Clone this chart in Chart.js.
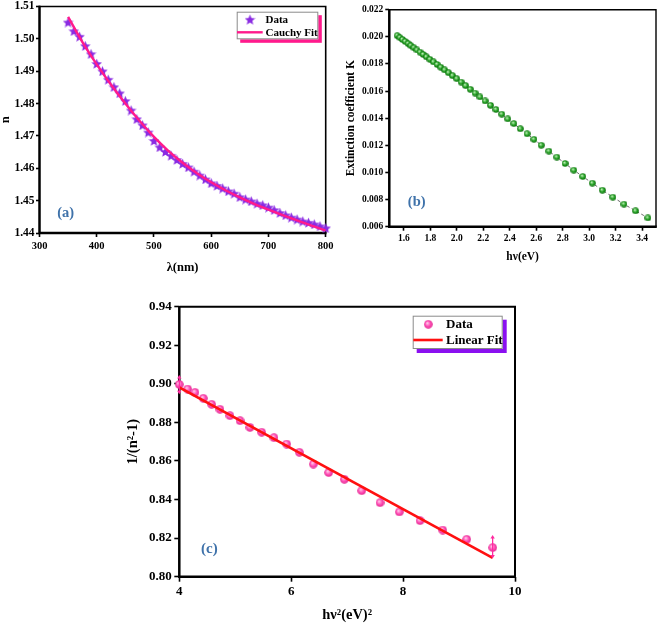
<!DOCTYPE html>
<html><head><meta charset="utf-8">
<script src="https://cdn.jsdelivr.net/npm/chart.js@4.4.1/dist/chart.umd.min.js"></script>
<style>
html,body{margin:0;padding:0;background:#fff;}
body{width:661px;height:624px;position:relative;overflow:hidden;}
canvas{position:absolute;}
</style></head><body>
<canvas id="ca" width="340" height="280" style="left:0;top:0;width:340px;height:280px"></canvas>
<canvas id="cb" width="331" height="280" style="left:330px;top:0;width:331px;height:280px"></canvas>
<canvas id="cc" width="420" height="334" style="left:120px;top:290px;width:420px;height:334px"></canvas>
<script>
// ---------- (a) refractive index vs wavelength ----------
const wavelengthNm = [350,360,370,380,390,400,410,420,430,440,450,460,470,480,490,500,510,520,530,540,550,560,570,580,590,600,610,620,630,640,650,660,670,680,690,700,710,720,730,740,750,760,770,780,790,800];
const nData = [1.5052,1.5025,1.5008,1.4979,1.4954,1.4924,1.4901,1.4875,1.4852,1.4833,1.4809,1.4780,1.4753,1.4734,1.4712,1.4686,1.4666,1.4652,1.4640,1.4627,1.4615,1.4604,1.4591,1.4579,1.4567,1.4555,1.4547,1.4539,1.4530,1.4523,1.4512,1.4505,1.4499,1.4492,1.4487,1.4480,1.4472,1.4463,1.4456,1.4449,1.4443,1.4437,1.4433,1.4428,1.4422,1.4416];
const cauchyWl = [350,375,400,425,450,475,500,525,550,575,600,625,650,675,700,725,750,775,800];
const cauchyN  = [1.5068,1.4990,1.4921,1.4858,1.4800,1.4746,1.4697,1.4654,1.4617,1.4585,1.4557,1.4532,1.4510,1.4490,1.4472,1.4455,1.4439,1.4423,1.4408];
const xTicksA = [300,400,500,600,700,800];
const yTicksA = [1.44,1.45,1.46,1.47,1.48,1.49,1.50,1.51];

// ---------- (b) extinction coefficient vs photon energy ----------
const photonEnergyEv = [1.550,1.570,1.590,1.610,1.632,1.653,1.676,1.699,1.722,1.746,1.771,1.797,1.824,1.851,1.879,1.908,1.938,1.968,2.000,2.033,2.067,2.102,2.138,2.175,2.214,2.255,2.296,2.340,2.385,2.431,2.480,2.531,2.583,2.638,2.696,2.756,2.818,2.884,2.952,3.024,3.100,3.179,3.263,3.351,3.444];
const extinctionK = [0.02008,0.01994,0.01980,0.01966,0.01950,0.01935,0.01919,0.01903,0.01887,0.01870,0.01852,0.01834,0.01815,0.01796,0.01776,0.01756,0.01735,0.01713,0.01691,0.01666,0.01640,0.01613,0.01585,0.01557,0.01527,0.01495,0.01464,0.01430,0.01395,0.01360,0.01322,0.01285,0.01244,0.01201,0.01157,0.01113,0.01066,0.01017,0.00970,0.00921,0.00869,0.00818,0.00766,0.00717,0.00665];
const xTicksB = [1.6,1.8,2.0,2.2,2.4,2.6,2.8,3.0,3.2,3.4];
const yTicksB = [0.006,0.008,0.010,0.012,0.014,0.016,0.018,0.020,0.022];

// ---------- (c) 1/(n^2-1) vs (hv)^2 ----------
const hv2 = [4.000,4.149,4.280,4.429,4.578,4.727,4.906,5.085,5.263,5.472,5.692,5.919,6.145,6.396,6.670,6.950,7.260,7.588,7.933,8.303,8.708,9.137,9.602];
const invN2m1 = [0.8997,0.8973,0.8956,0.8925,0.8894,0.8868,0.8835,0.8809,0.8774,0.8749,0.8721,0.8688,0.8645,0.8584,0.8540,0.8505,0.8446,0.8384,0.8336,0.8291,0.8242,0.8194,0.8151];
const linFitX = [4.0,9.6];
const linFitY = [0.8982,0.8098];
const errX = [4.0,9.6];
const errLow = [0.8946,0.8095];
const errHigh = [0.9046,0.8216];
const xTicksC = [4,6,8,10];
const yTicksC = [0.80,0.82,0.84,0.86,0.88,0.90,0.92,0.94];

// ---------- helpers ----------
const SERIF = "'Liberation Serif','Times New Roman',serif";
const pts = (xs, ys) => xs.map((x,i)=>({x, y: ys[i]}));

function starImg(size, color){
  const c=document.createElement('canvas'); c.width=c.height=size;
  const g=c.getContext('2d'); const R=size/2, r=R*0.46;
  g.beginPath();
  for(let i=0;i<10;i++){const a=-Math.PI/2+i*Math.PI/5; const rr=(i%2)?r:R; g.lineTo(R+rr*Math.cos(a), R+0.8+rr*Math.sin(a));}
  g.closePath(); g.fillStyle=color; g.fill(); return c;
}
function ballImg(d, light, mid, dark){
  const c=document.createElement('canvas'); c.width=c.height=d;
  const g=c.getContext('2d'); const r=d/2;
  const gr=g.createRadialGradient(r*0.75,r*0.7,r*0.05,r,r,r);
  gr.addColorStop(0,light); gr.addColorStop(0.55,mid); gr.addColorStop(1,dark);
  g.fillStyle=gr; g.beginPath(); g.arc(r,r,r-0.2,0,Math.PI*2); g.fill(); return c;
}

function scaleCfg(c){
  return {
    type:'linear', min:c.min, max:c.max,
    afterBuildTicks: s => { s.ticks = c.ticks.map(v=>({value:v})); },
    afterFit: s => {
      if (c.vertical) s.width = c.size; else s.height = c.size;
      s.paddingLeft = s.paddingRight = s.paddingTop = s.paddingBottom = 0;
    },
    border:{display:false},
    grid:{display:true, drawOnChartArea:false, drawTicks:true, tickLength:c.tickLen, tickColor:'#000', tickWidth:1.6, color:'#000'},
    ticks:{color:'#000', font:{family:SERIF, weight:'bold', size:c.fs}, padding:c.pad, maxRotation:0, autoSkip:false, callback:v=>c.fmt(v)},
    title:{display:true, text:c.title, color:'#000', font:{family:SERIF, weight:'bold', size:c.tfs}, padding:c.tpad}
  };
}

const decorPlugin = {
  id:'decor',
  beforeDatasetsDraw(chart){
    const o = chart.options.plugins.decor; if(!o) return;
    const {ctx, chartArea:a} = chart;
    ctx.save(); ctx.strokeStyle='#000';
    ctx.lineWidth=o.frameThin||1.6; ctx.beginPath();
    ctx.moveTo(a.left,a.top); ctx.lineTo(a.right,a.top); ctx.lineTo(a.right,a.bottom); ctx.stroke();
    ctx.lineWidth=2.5; ctx.beginPath();
    ctx.moveTo(a.left,a.top-0.8); ctx.lineTo(a.left,a.bottom); ctx.lineTo(a.right+0.8,a.bottom); ctx.stroke();
    ctx.restore();
  },
  afterDatasetsDraw(chart){
    const o = chart.options.plugins.decor; if(!o || !o.err) return;
    const {ctx} = chart; const xs=chart.scales.x, ys=chart.scales.y;
    ctx.save(); ctx.strokeStyle=o.err.color; ctx.fillStyle=o.err.color; ctx.lineWidth=1.3;
    o.err.x.forEach((xv,i)=>{
      const px=xs.getPixelForValue(xv), y1=ys.getPixelForValue(o.err.hi[i]), y2=ys.getPixelForValue(o.err.lo[i]);
      ctx.beginPath(); ctx.moveTo(px,y1+2); ctx.lineTo(px,y2-2); ctx.stroke();
      ctx.beginPath(); ctx.moveTo(px,y1); ctx.lineTo(px-2.2,y1+3.5); ctx.lineTo(px+2.2,y1+3.5); ctx.closePath(); ctx.fill();
      ctx.beginPath(); ctx.moveTo(px,y2); ctx.lineTo(px-2.2,y2-3.5); ctx.lineTo(px+2.2,y2-3.5); ctx.closePath(); ctx.fill();
    });
    ctx.restore();
  },
  afterDraw(chart){
    const o = chart.options.plugins.decor; if(!o) return;
    const {ctx} = chart;
    ctx.save();
    if (o.panel){
      ctx.font = `bold ${o.panel.size}px ${SERIF}`; ctx.fillStyle=o.panel.color;
      ctx.textAlign='center'; ctx.textBaseline='middle';
      ctx.fillText(o.panel.text, o.panel.x, o.panel.y);
    }
    if (o.legend){
      const L=o.legend, b=L.box;
      ctx.fillStyle=L.shadow; ctx.fillRect(b[0]+L.off, b[1]+L.off, b[2]-b[0], b[3]-b[1]);
      ctx.fillStyle='#fff'; ctx.fillRect(b[0], b[1], b[2]-b[0], b[3]-b[1]);
      ctx.strokeStyle='#8a8a8a'; ctx.lineWidth=1; ctx.strokeRect(b[0]+0.5, b[1]+0.5, b[2]-b[0]-1, b[3]-b[1]-1);
      ctx.font=`bold ${L.size}px ${SERIF}`; ctx.fillStyle='#000'; ctx.textAlign='left'; ctx.textBaseline='middle';
      L.rows.forEach(r=>{
        const ds = chart.data.datasets[r.ds];
        if (r.kind==='point'){
          const im = ds.pointStyle; ctx.drawImage(im, r.x-im.width/2, r.y-im.height/2);
        } else {
          ctx.strokeStyle=ds.borderColor; ctx.lineWidth=ds.borderWidth; ctx.beginPath(); ctx.moveTo(r.x0,r.y); ctx.lineTo(r.x1,r.y); ctx.stroke();
        }
        ctx.fillStyle='#000'; ctx.fillText(ds.label, r.tx, r.y+0.5);
      });
    }
    ctx.restore();
  }
};
Chart.register(decorPlugin);

const common = {responsive:false, animation:false, events:[], plugins:{legend:{display:false}, tooltip:{enabled:false}}};

// ---------- chart (a) ----------
new Chart(document.getElementById('ca'), {
  type:'scatter',
  data:{datasets:[
    {label:'Data', data:pts(wavelengthNm,nData), pointStyle:starImg(11,'#8a2be2'), pointRadius:5.5, showLine:false, clip:false, order:2},
    {label:'Cauchy Fit', data:pts(cauchyWl,cauchyN), showLine:true, borderColor:'#ff1a8c', borderWidth:2.4, pointRadius:0, cubicInterpolationMode:'monotone', order:1}
  ]},
  options:{...common,
    layout:{padding:{left:0,top:5,right:14.3,bottom:0}},
    scales:{
      x: scaleCfg({min:300,max:800,ticks:xTicksA,size:47,tickLen:4,fs:10.5,pad:3,fmt:v=>String(v),title:'λ(nm)',tfs:12.5,tpad:{top:0,bottom:5}}),
      y: scaleCfg({min:1.44,max:1.51,ticks:yTicksA,size:39.5,vertical:true,tickLen:3.5,fs:11.5,pad:1.5,fmt:v=>v.toFixed(2),title:'n',tfs:12.5,tpad:{top:-2,bottom:0}})
    },
    plugins:{...common.plugins,
      decor:{panel:{text:'(a)',x:65.7,y:213.5,size:14.5,color:'#3f72aa'},
        legend:{box:[236.7,11.7,318.3,39.3],shadow:'#ff1a8c',off:3.5,size:11,
          rows:[{ds:0,kind:'point',x:250,y:19.3,tx:265.5},{ds:1,kind:'line',x0:237,x1:262.7,y:32.3,tx:265.5}]}}
    }
  }
});

// ---------- chart (b) ----------
new Chart(document.getElementById('cb'), {
  type:'scatter',
  data:{datasets:[
    {label:'K', data:pts(photonEnergyEv,extinctionK), pointStyle:ballImg(7,'#c8f5c0','#22a022','#0c6a0c'), pointRadius:3.5, showLine:true, borderColor:'#6a6a6a', borderWidth:1, borderDash:[3,2.5], clip:false}
  ]},
  options:{...common,
    layout:{padding:{left:0,top:9.7,right:3,bottom:0}},
    scales:{
      x: scaleCfg({min:1.49,max:3.505,ticks:xTicksB,size:53.3,tickLen:4,fs:9.5,pad:2.5,fmt:v=>v.toFixed(1),title:'hν(eV)',tfs:11.5,tpad:{top:0,bottom:16}}),
      y: scaleCfg({min:0.006,max:0.022,ticks:yTicksB,size:59.3,vertical:true,tickLen:4,fs:9.5,pad:2,fmt:v=>v.toFixed(3),title:'Extinction coefficient K',tfs:11.5,tpad:{top:14,bottom:0}})
    },
    plugins:{...common.plugins,
      decor:{frameThin:1.4, panel:{text:'(b)',x:86.7,y:202.7,size:14.5,color:'#3f72aa'}}
    }
  }
});

// ---------- chart (c) ----------
new Chart(document.getElementById('cc'), {
  type:'scatter',
  data:{datasets:[
    {label:'Data', data:pts(hv2,invN2m1), pointStyle:ballImg(9,'#ffd0ec','#ff4db5','#e0288f'), pointRadius:4.5, showLine:false, clip:false, order:2},
    {label:'Linear Fit', data:pts(linFitX,linFitY), showLine:true, borderColor:'#ff1010', borderWidth:2.6, pointRadius:0, order:1}
  ]},
  options:{...common,
    layout:{padding:{left:0,top:16.7,right:25,bottom:0}},
    scales:{
      x: scaleCfg({min:4,max:10,ticks:xTicksC,size:47.3,tickLen:5,fs:13,pad:2,fmt:v=>String(v),title:'hν²(eV)²',tfs:14.5,tpad:{top:0,bottom:0.5}}),
      y: scaleCfg({min:0.80,max:0.94,ticks:yTicksC,size:59.3,vertical:true,tickLen:5,fs:13,pad:2.5,fmt:v=>v.toFixed(2),title:'1/(n²-1)',tfs:14.5,tpad:{top:5,bottom:0}})
    },
    plugins:{...common.plugins,
      decor:{frameThin:2, panel:{text:'(c)',x:89.3,y:259,size:15,color:'#3f72aa'},
        err:{x:errX,lo:errLow,hi:errHigh,color:'#ff2aa0'},
        legend:{box:[292.7,25.7,382.7,59],shadow:'#8a10f0',off:4,size:13,
          rows:[{ds:0,kind:'point',x:308.3,y:34.3,tx:326},{ds:1,kind:'line',x0:293.3,x1:322.7,y:50,tx:326}]}}
    }
  }
});
</script>
</body></html>
